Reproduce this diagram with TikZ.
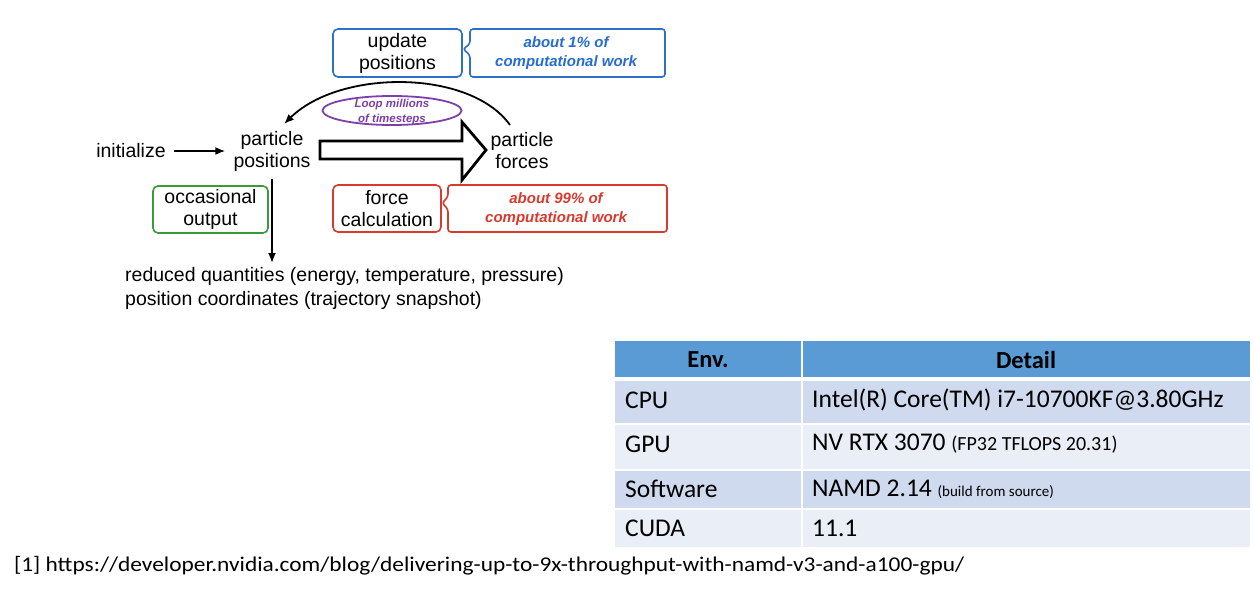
\documentclass[tikz,border=0pt]{standalone}
\usepackage{fontspec}
\setmainfont{Liberation Sans}
\newfontfamily\tabfont{Carlito}
\usetikzlibrary{arrows.meta,shapes.geometric}
\definecolor{cblue}{RGB}{46,111,199}
\definecolor{tblue}{RGB}{38,108,210}
\definecolor{cred}{RGB}{217,58,46}
\definecolor{cgreen}{RGB}{58,154,58}
\definecolor{cpurple}{RGB}{125,63,170}
\definecolor{thead}{RGB}{91,155,213}
\definecolor{rowA}{RGB}{207,218,238}
\definecolor{rowB}{RGB}{233,238,247}
\begin{document}
\begin{tikzpicture}[x=1pt,y=-1pt,
  lbl/.style={font=\fontsize{19.5}{22}\selectfont, align=center, inner sep=8pt},
  rbox/.style={draw=#1, line width=1.6pt, rounded corners=5pt, align=center,
     font=\fontsize{19.5}{22}\selectfont, inner sep=0pt},
  ctext/.style={text=#1, align=center, font=\fontsize{15}{19.5}\selectfont\bfseries\itshape},
  cline/.style={draw=#1, line width=1.6pt, rounded corners=3pt},
  arr/.style={line width=1.8pt, -{Latex[length=10pt,width=8pt]}},
  cell/.style={anchor=west, inner sep=0pt, font=\tabfont\fontsize{25.5}{28}\selectfont},
  hcell/.style={inner sep=0pt, font=\tabfont\bfseries\fontsize{24.5}{28}\selectfont}
  ]
\useasboundingbox (0,0) rectangle (1253,591);
\fill[white] (0,0) rectangle (1253,591);

% ---- diagram ----
\node[lbl] (init) at (131,151) {initialize};
\node[lbl] (pos) at (272,151) {particle\\positions};
\node[lbl] (forces) at (522,151) {particle\\forces};
\draw[arr] (init.east) -- (pos.west);

% update box + callout
\node[rbox=cblue, minimum width=129pt, minimum height=48pt] (upd) at (397.5,53) {update\\positions};
\draw[cline=cblue] (470,29) -- (665,29) -- (665,77) -- (470,77) -- (470,55) -- (463,49) -- (470,44) -- cycle;
\node[ctext=tblue] (updc) at (566,53) {about 1\% of\\computational work};

% loop arc
\coordinate (arcS) at (510,125);
\coordinate (arcE) at (284,124);
\draw[arr] (arcS) .. controls (470,69) and (340,69) .. (arcE);

% ellipse
\node[text=cpurple, align=center, inner sep=0pt, font=\fontsize{11.5}{15}\selectfont\bfseries\itshape] (loop) at (392,112) {Loop millions\\of timesteps};
\draw[cpurple, line width=1.8pt] (392,110.5) ellipse [x radius=69.5, y radius=14.5];

% big hollow arrow
\draw[line width=2.8pt, line join=miter] (320,141) -- (462,141) -- (462,122) -- (486,150) -- (462,180) -- (462,159) -- (320,159) -- cycle;

% occasional output
\node[rbox=cgreen, minimum width=115pt, minimum height=47pt] (occ) at (210.5,209.5) {occasional\\output};

% force calculation + callout
\node[rbox=cred, minimum width=108pt, minimum height=47pt] (fc) at (387,208.5) {force\\calculation};
\draw[cline=cred] (448,185) -- (667,185) -- (667,232) -- (448,232) -- (448,209) -- (442,203) -- (448,197) -- cycle;
\node[ctext=cred] (fcc) at (556,209) {about 99\% of\\computational work};

% output
\node[anchor=west, align=left, inner sep=0pt, font=\fontsize{19.5}{24}\selectfont] (red) at (125,288) {reduced quantities (energy, temperature, pressure)\\position coordinates (trajectory snapshot)};
\draw[arr] (pos.south) -- (pos.south |- 0,263);

% ---- table ----
\fill[thead] (615,341) rectangle (801,377);
\fill[thead] (803,341) rectangle (1250,377);
\fill[rowA] (615,381) rectangle (801,423);
\fill[rowA] (803,381) rectangle (1250,423);
\fill[rowB] (615,425) rectangle (801,469);
\fill[rowB] (803,425) rectangle (1250,469);
\fill[rowA] (615,471) rectangle (801,508);
\fill[rowA] (803,471) rectangle (1250,508);
\fill[rowB] (615,510) rectangle (801,547);
\fill[rowB] (803,510) rectangle (1250,547);

\node[hcell] (h1) at (708,360) {Env.};
\node[hcell] (h2) at (1026,360) {Detail};
\node[cell] (c1) at (625,400) {CPU};
\node[cell] (d1) at (812,400) {Intel(R) Core(TM) i7-10700KF@3.80GHz};
\node[cell] (c2) at (625,444) {GPU};
\node[cell] (d2) at (812,444) {NV RTX 3070 {\fontsize{20}{24}\selectfont(FP32 TFLOPS 20.31)}};
\node[cell] (c3) at (625,489) {Software};
\node[cell] (d3) at (812,489) {NAMD 2.14 {\fontsize{15}{18}\selectfont(build from source)}};
\node[cell] (c4) at (625,528) {CUDA};
\node[cell] (d4) at (812,528) {11.1};

% ---- footnote ----
\node[anchor=west, inner sep=0pt, font=\tabfont\fontsize{21}{24}\selectfont] (fn) at (14,566) {\scalebox{1.113}[1]{[1] https://developer.nvidia.com/blog/delivering-up-to-9x-throughput-with-namd-v3-and-a100-gpu/}};
\end{tikzpicture}
\end{document}
